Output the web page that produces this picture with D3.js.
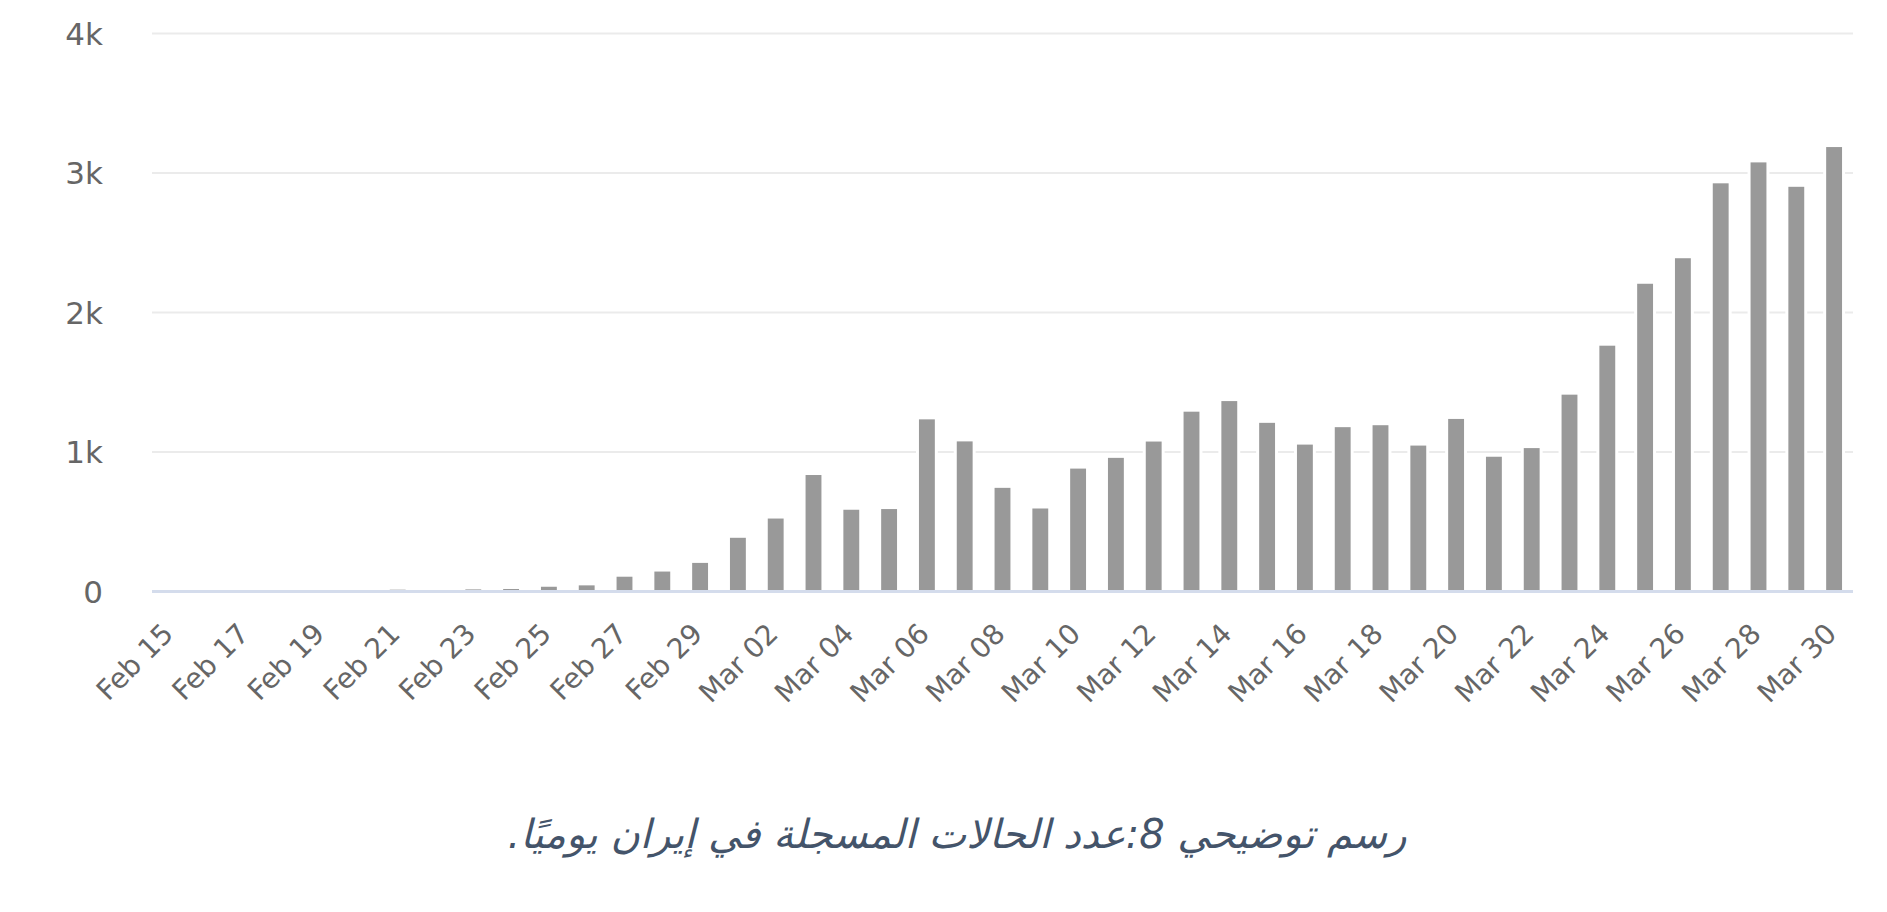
<!DOCTYPE html>
<html>
<head>
<meta charset="utf-8">
<script src="https://cdn.jsdelivr.net/npm/d3@7"></script>
<style>
    html, body { margin: 0; padding: 0; background: #fff; }
    svg { display: block; }
</style>
</head>
<body>
<div id="chart"></div>
<script>
// daily new cases in Iran, Feb 15 - Mar 30
const days = [
    'Feb 15', 'Feb 16', 'Feb 17', 'Feb 18', 'Feb 19', 'Feb 20', 'Feb 21', 'Feb 22',
    'Feb 23', 'Feb 24', 'Feb 25', 'Feb 26', 'Feb 27', 'Feb 28', 'Feb 29',
    'Mar 01', 'Mar 02', 'Mar 03', 'Mar 04', 'Mar 05', 'Mar 06', 'Mar 07', 'Mar 08',
    'Mar 09', 'Mar 10', 'Mar 11', 'Mar 12', 'Mar 13', 'Mar 14', 'Mar 15', 'Mar 16',
    'Mar 17', 'Mar 18', 'Mar 19', 'Mar 20', 'Mar 21', 'Mar 22', 'Mar 23', 'Mar 24',
    'Mar 25', 'Mar 26', 'Mar 27', 'Mar 28', 'Mar 29', 'Mar 30'
];
const cases = [
    0, 0, 0, 0, 2, 3, 13, 10,
    15, 18, 34, 44, 106, 143, 205,
    385, 523, 835, 586, 591, 1234, 1076, 743,
    595, 881, 958, 1075, 1289, 1365, 1209, 1053,
    1178, 1192, 1046, 1237, 966, 1028, 1411, 1762,
    2206, 2389, 2926, 3076, 2901, 3186
];
const yTicks = [0, 1000, 2000, 3000, 4000];
const yTickLabels = ['0', '1k', '2k', '3k', '4k'];
const caption = 'رسم توضيحي 8:عدد الحالات المسجلة في إيران يوميًا.';

const width = 1887,
    height = 912;
const plot = { left: 152, right: 1853, top: 33.5, bottom: 591.5 };

const svg = d3
    .select('#chart')
    .append('svg')
    .attr('width', width)
    .attr('height', height)
    .attr('viewBox', `0 0 ${width} ${height}`);

svg.append('rect').attr('width', width).attr('height', height).attr('fill', '#fff');

const x = d3
    .scaleBand()
    .domain(days)
    .range([plot.left, plot.right])
    .paddingInner(0.58)
    .paddingOuter(0.29);
const y = d3.scaleLinear().domain([0, 4000]).range([plot.bottom, plot.top]);

// gridlines (the zero line is the axis line, drawn later)
svg.append('g')
    .selectAll('line')
    .data(yTicks.filter((t) => t > 0))
    .enter()
    .append('line')
    .attr('x1', plot.left)
    .attr('x2', plot.right)
    .attr('y1', (d) => y(d))
    .attr('y2', (d) => y(d))
    .attr('stroke', '#ebebeb')
    .attr('stroke-width', 2);

// y labels
svg.append('g')
    .selectAll('text')
    .data(yTicks)
    .enter()
    .append('text')
    .attr('x', 103)
    .attr('y', (d) => y(d))
    .attr('dy', '0.36em')
    .attr('text-anchor', 'end')
    .attr('font-family', 'DejaVu Sans, sans-serif')
    .attr('font-size', 31)
    .attr('fill', '#666')
    .text((d, i) => yTickLabels[i]);

// bars with a thin white halo, like the original column borders
const bars = svg.append('g');
bars.selectAll('rect.halo')
    .data(days)
    .enter()
    .append('rect')
    .attr('class', 'halo')
    .attr('x', (d) => x(d) - 3)
    .attr('width', x.bandwidth() + 6)
    .attr('y', (d, i) => y(cases[i]))
    .attr('height', (d, i) => plot.bottom - y(cases[i]))
    .attr('fill', '#fff');
bars.selectAll('rect.bar')
    .data(days)
    .enter()
    .append('rect')
    .attr('class', 'bar')
    .attr('x', (d) => x(d))
    .attr('width', x.bandwidth())
    .attr('y', (d, i) => y(cases[i]))
    .attr('height', (d, i) => plot.bottom - y(cases[i]))
    .attr('fill', '#999');

// axis line
svg.append('line')
    .attr('x1', plot.left)
    .attr('x2', plot.right)
    .attr('y1', y(0))
    .attr('y2', y(0))
    .attr('stroke', '#d4dcec')
    .attr('stroke-width', 3);

// rotated date labels, every other day
svg.append('g')
    .selectAll('text')
    .data(days.filter((d, i) => i % 2 === 0))
    .enter()
    .append('text')
    .attr('text-anchor', 'end')
    .attr('font-family', 'DejaVu Sans, sans-serif')
    .attr('font-size', 28)
    .attr('fill', '#666')
    .attr('transform', (d) => {
        const cx = x(d) + x.bandwidth() / 2 + 4;
        return `translate(${cx},${plot.bottom + 44}) rotate(-45)`;
    })
    .text((d) => d);

// caption under the chart
const cap = svg
    .append('text')
    .attr('x', 957)
    .attr('y', 848)
    .attr('text-anchor', 'middle')
    .attr('direction', 'rtl')
    .attr('font-family', 'DejaVu Sans, sans-serif')
    .attr('font-style', 'italic')
    .attr('font-size', 40)
    .attr('fill', '#44546a')
    .text(caption);
const capLen = cap.node().getComputedTextLength();
cap.attr('font-size', (40 * 899) / capLen);
</script>
</body>
</html>
